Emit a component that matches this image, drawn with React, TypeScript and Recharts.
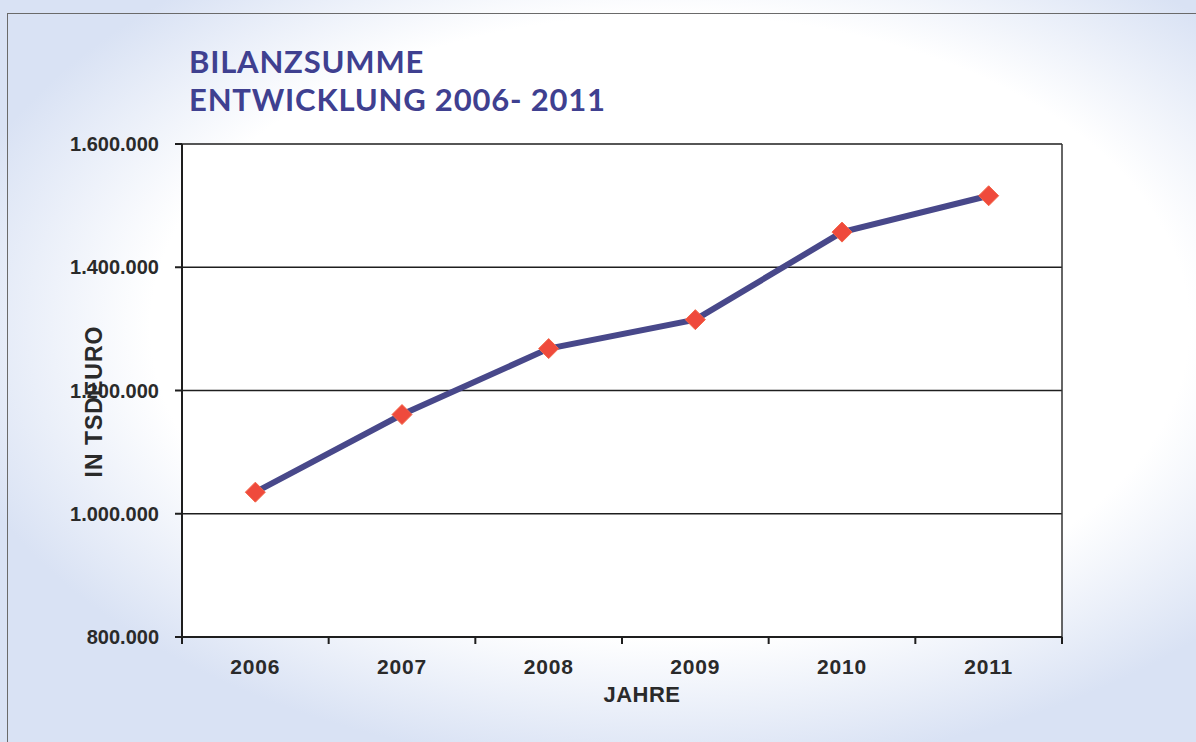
import { LineChart, Line, XAxis, YAxis, CartesianGrid, ReferenceLine, Label } from "recharts";

// Bilanzsumme in TSD Euro
const YEARS = ["2006", "2007", "2008", "2009", "2010", "2011"];
const BILANZSUMME = [1035000, 1161000, 1268000, 1315000, 1457000, 1516000];
const Y_TICKS = [800000, 1000000, 1200000, 1400000, 1600000];
const X_BOUNDS = [0, 1, 2, 3, 4, 5, 6];

const TITLE_LINES = ["BILANZSUMME", "ENTWICKLUNG 2006- 2011"];
const Y_LABEL = "IN TSDEURO";
const X_LABEL = "JAHRE";

const W = 1196;
const H = 742;
const MARGIN = { top: 144, right: 134, bottom: 75, left: 122 };
const Y_AXIS_W = 60;
const X_AXIS_H = 30;
const BAND = (W - MARGIN.left - MARGIN.right - Y_AXIS_W) / YEARS.length;

const AXIS_FONT = "'Liberation Sans', Arial, sans-serif";

const data = YEARS.map((year, i) => ({ year, pos: i + 0.5, value: BILANZSUMME[i] }));

const formatDe = (v: number) => String(v).replace(/\B(?=(\d{3})+(?!\d))/g, ".");

function YearTick({ x, y, index }: any) {
    if (index >= YEARS.length) return <g />;
    return (
        <text
            x={x + BAND / 2}
            y={y}
            dy="0.72em"
            textAnchor="middle"
            fill="#2a2a2a"
            fontFamily={AXIS_FONT}
            fontWeight={700}
            fontSize={21}
            letterSpacing={0.8}
        >
            {YEARS[index]}
        </text>
    );
}

function Diamond({ cx, cy, index }: any) {
    if (cx == null || cy == null) return <g key={index} />;
    const r = 10;
    return (
        <polygon
            key={index}
            points={`${cx},${cy - r} ${cx + r},${cy} ${cx},${cy + r} ${cx - r},${cy}`}
            fill="#ef4a3c"
            stroke="#f36548"
            strokeWidth={1}
            strokeLinejoin="round"
        />
    );
}

export default function App() {
    return (
        <div
            style={{
                position: "absolute",
                left: 0,
                top: 0,
                width: W,
                height: H,
                overflow: "hidden",
                background: "radial-gradient(ellipse 62% 60% at 56% 44%, #ffffff 70%, #d9e2f4 100%)",
            }}
        >
            <div
                style={{
                    position: "absolute",
                    left: 7,
                    top: 13,
                    width: 1200,
                    height: 760,
                    border: "1.5px solid #6a6a6a",
                }}
            />
            <div
                style={{
                    position: "absolute",
                    left: 189,
                    top: 42,
                    fontFamily: "Lato, 'Open Sans', sans-serif",
                    fontWeight: 700,
                    fontSize: 31,
                    lineHeight: "38px",
                    color: "#3f4090",
                    letterSpacing: 0.8,
                }}
            >
                {TITLE_LINES.map((t) => (
                    <div key={t}>{t}</div>
                ))}
            </div>
            <LineChart width={W} height={H} data={data} margin={MARGIN} style={{ position: "absolute", left: 0, top: 0 }}>
                <CartesianGrid vertical={false} stroke="#1e1e1e" strokeWidth={1.3} fill="#ffffff" />
                <XAxis
                    dataKey="pos"
                    type="number"
                    domain={[0, 6]}
                    ticks={X_BOUNDS}
                    interval={0}
                    height={X_AXIS_H}
                    tickSize={7}
                    tickMargin={15}
                    stroke="#1e1e1e"
                    strokeWidth={2}
                    tick={<YearTick />}
                >
                    <Label
                        content={({ viewBox }: any) => (
                            <text
                                x={viewBox.x + viewBox.width / 2 + 20}
                                y={702}
                                textAnchor="middle"
                                fill="#2a2a2a"
                                fontFamily={AXIS_FONT}
                                fontWeight={700}
                                fontSize={22}
                                letterSpacing={0.5}
                            >
                                {X_LABEL}
                            </text>
                        )}
                    />
                </XAxis>
                <YAxis
                    domain={[800000, 1600000]}
                    ticks={Y_TICKS}
                    interval={0}
                    width={Y_AXIS_W}
                    tickSize={7}
                    tickMargin={16}
                    stroke="#1e1e1e"
                    strokeWidth={2}
                    tickFormatter={formatDe}
                    tick={{ fill: "#2a2a2a", fontFamily: AXIS_FONT, fontWeight: 700, fontSize: 20 }}
                >
                    <Label
                        content={({ viewBox }: any) => {
                            const cx = 94;
                            const cy = viewBox.y + viewBox.height / 2 + 11;
                            return (
                                <text
                                    x={cx}
                                    y={cy}
                                    transform={`rotate(-90 ${cx} ${cy})`}
                                    textAnchor="middle"
                                    dominantBaseline="central"
                                    fill="#2a2a2a"
                                    fontFamily={AXIS_FONT}
                                    fontWeight={700}
                                    fontSize={23}
                                    letterSpacing={1}
                                >
                                    {Y_LABEL}
                                </text>
                            );
                        }}
                    />
                </YAxis>
                <ReferenceLine x={6} stroke="#333" strokeWidth={1.5} />
                <Line
                    dataKey="value"
                    stroke="#48488a"
                    strokeWidth={6}
                    dot={<Diamond />}
                    activeDot={false}
                    isAnimationActive={false}
                />
            </LineChart>
        </div>
    );
}
